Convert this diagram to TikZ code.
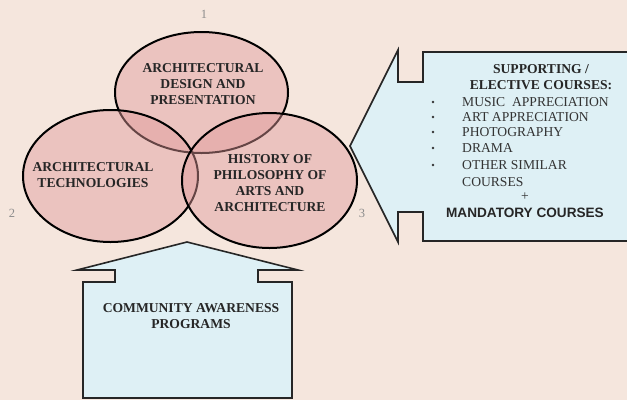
\documentclass[tikz,border=0pt]{standalone}
\usepackage{fontspec}
\setmainfont{Liberation Serif}
\newfontfamily\arialfont{Liberation Sans}
\usetikzlibrary{shapes.geometric}
\definecolor{bgpeach}{RGB}{245,230,221}
\definecolor{venn}{RGB}{225,154,155}
\definecolor{boxblue}{RGB}{222,240,245}
\tikzset{
  circ/.style={ellipse, draw=black, line width=2pt, fill=venn,
    fill opacity=0.45, text opacity=1, inner sep=0pt},
  callout/.style={draw=black!85, line width=1.6pt, fill=boxblue, line join=miter},
  lbl/.style={font=\fontsize{13.6}{16}\selectfont\bfseries, text=black!85, align=center},
  item/.style={font=\fontsize{13.6}{16}\selectfont, text=black!80, anchor=west, inner sep=0pt},
  num/.style={font=\fontsize{12.5}{14}\selectfont, text=black!45}
}
\begin{document}
\begin{tikzpicture}[x=1pt,y=-1pt]
  \useasboundingbox (0,0) rectangle (627,400);
  \clip (0,0) rectangle (627,400);
  \fill[bgpeach] (0,0) rectangle (627,400);

  % three courses
  \node[circ, minimum width=173pt, minimum height=121pt] (design) at (201.5,92.5) {};
  \node[circ, minimum width=175pt, minimum height=132pt] (tech) at (110.5,176) {};
  \node[circ, minimum width=175pt, minimum height=135pt] (history) at (269.5,180.5) {};

  \node[lbl] (designtxt) at (203,84) {ARCHITECTURAL\\DESIGN AND\\PRESENTATION};
  \node[lbl] (techtxt) at (93,175) {ARCHITECTURAL\\TECHNOLOGIES};
  \node[lbl] (historytxt) at (270,183.5) {HISTORY OF\\PHILOSOPHY OF\\ARTS AND\\ARCHITECTURE};

  \node[num] (n1) at (204,14) {1};
  \node[num] (n2) at (12,213) {2};
  \node[num] (n3) at (362,213) {3};

  % supporting courses, pointing left
  \draw[callout] (350,146) -- (398,50) -- (398,82) -- (423,82) -- (423,52)
    -- (640,52) -- (640,241) -- (423,241) -- (423,212) -- (398,212)
    -- (398,242) -- cycle;
  \node[lbl] (support) at (541,77) {SUPPORTING /\\ELECTIVE COURSES:};
  \foreach \y/\txt in {102/MUSIC\ \ APPRECIATION, 117/ART APPRECIATION,
      132/PHOTOGRAPHY, 148/DRAMA, 165/OTHER SIMILAR} {
    \fill[black!80] (433,\y) circle (1.4pt);
    \node[item] at (462,\y) {\txt};
  }
  \node[item] (courses) at (462,182) {COURSES};
  \node[item, anchor=center] (plus) at (525,197) {+};
  \node[lbl, font=\fontsize{13.6}{16}\selectfont\arialfont\bfseries] (mandatory) at (525,213) {MANDATORY COURSES};

  % community programs, pointing up
  \draw[callout] (187,242) -- (298,270) -- (258,270) -- (258,282) -- (292,282)
    -- (292,398) -- (83,398) -- (83,282) -- (115,282) -- (115,270)
    -- (77,270) -- cycle;
  \node[lbl] (community) at (191,316) {COMMUNITY AWARENESS\\PROGRAMS};
\end{tikzpicture}
\end{document}
